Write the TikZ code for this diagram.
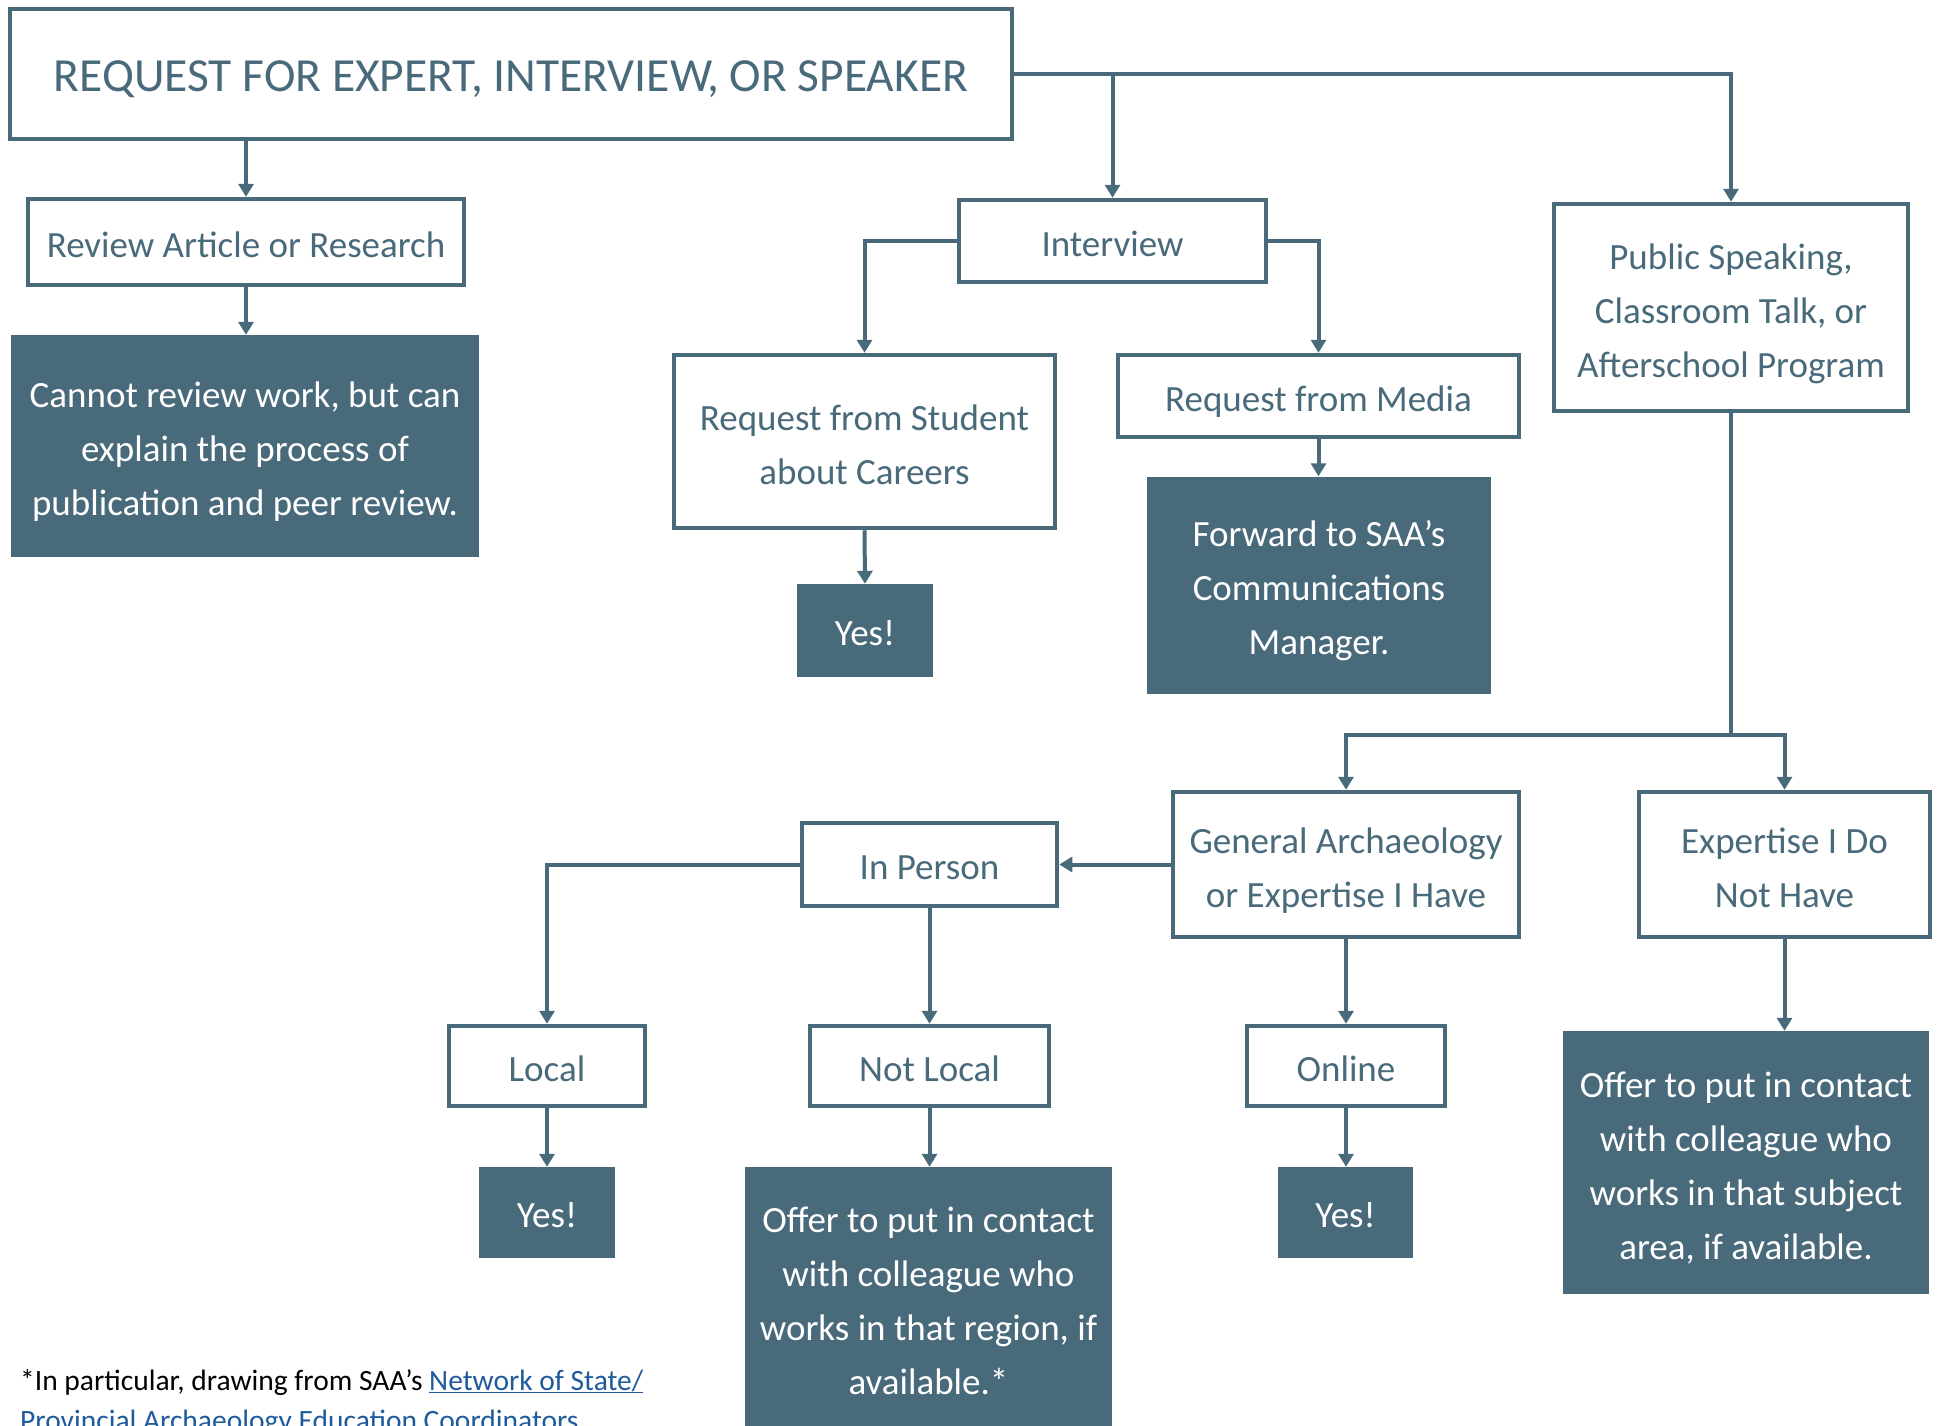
\documentclass[tikz,border=0pt]{standalone}
\usepackage{fontspec}
\setmainfont{Carlito}
\usetikzlibrary{arrows.meta,calc}
\definecolor{teal}{HTML}{496A7A}
\definecolor{linkblue}{HTML}{1F5B9C}
\newcommand{\mlines}[1]{\raisebox{-5pt}[\height][\depth]{\begin{tabular}{@{}c@{}}#1\end{tabular}}}
\begin{document}
\begin{tikzpicture}[x=1pt,y=-1pt,
  base/.style={inner sep=0pt,align=center,font=\fontsize{37}{54}\selectfont,
    execute at begin node={\rule{0pt}{40pt}},
    execute at end node={\rule[-10pt]{0pt}{10pt}}},
  mbase/.style={inner sep=0pt,align=center,font=\fontsize{37}{54}\selectfont},
  wbox/.style={base,draw=teal,line width=4.5pt,fill=white,text=teal},
  dbox/.style={base,fill=teal,text=white},
  wmbox/.style={mbase,draw=teal,line width=4.5pt,fill=white,text=teal},
  dmbox/.style={mbase,fill=teal,text=white},
  titlebox/.style={inner sep=0pt,align=center,draw=teal,line width=4.5pt,fill=white,text=teal,
    font=\fontsize{47.5}{56}\selectfont,
    execute at begin node={\rule{0pt}{46pt}},
    execute at end node={\rule[-10pt]{0pt}{10pt}}},
  arr/.style={draw=teal,line width=4pt,-{Triangle[width=15pt,length=13pt]}},
  ln/.style={draw=teal,line width=4pt}]
\useasboundingbox (0,0) rectangle (1940,1426);
\clip (0,0) rectangle (1940,1426);
\fill[white] (0,0) rectangle (1940,1426);

\node[titlebox,minimum width=1002pt,minimum height=130pt] (top) at (511,74) {REQUEST FOR EXPERT, INTERVIEW, OR SPEAKER};
\node[wbox,minimum width=436pt,minimum height=86pt] (review) at (246,242) {Review Article or Research};
\node[dmbox,minimum width=468pt,minimum height=222pt] (cannot) at (245,446) {\mlines{Cannot review work, but can\\explain the process of\\publication and peer review.}};
\node[wbox,minimum width=307pt,minimum height=82pt] (interview) at (1112.5,241) {Interview};
\node[wmbox,minimum width=381pt,minimum height=173pt] (student) at (864.5,441.5) {\mlines{Request from Student\\about Careers}};
\node[dbox,minimum width=136pt,minimum height=93pt] (yes1) at (865,630.5) {Yes!};
\node[wbox,minimum width=401pt,minimum height=82pt] (media) at (1318.5,396) {Request from Media};
\node[dmbox,minimum width=344pt,minimum height=217pt] (forward) at (1319,585) {\mlines{Forward to SAA’s\\Communications\\Manager.}};
\node[wmbox,minimum width=354pt,minimum height=207pt] (public) at (1731,307.5) {\mlines{Public Speaking,\\Classroom Talk, or\\Afterschool Program}};
\node[wmbox,minimum width=346pt,minimum height=145pt] (general) at (1346,864.5) {\mlines{General Archaeology\\or Expertise I Have}};
\node[wmbox,minimum width=291pt,minimum height=145pt] (expertise) at (1784.5,864.5) {\mlines{Expertise I Do\\Not Have}};
\node[wbox,minimum width=255pt,minimum height=83pt] (inperson) at (929.5,864.5) {In Person};
\node[wbox,minimum width=196pt,minimum height=80pt] (local) at (547,1066) {Local};
\node[wbox,minimum width=239pt,minimum height=80pt] (notlocal) at (929.5,1066) {Not Local};
\node[wbox,minimum width=198pt,minimum height=80pt] (online) at (1346,1066) {Online};
\node[dbox,minimum width=136pt,minimum height=91pt] (yes2) at (547,1212.5) {Yes!};
\node[dmbox,minimum width=367pt,minimum height=262pt] (offer1) at (928.5,1298) {\mlines{Offer to put in contact\\with colleague who\\works in that region, if\\available.*}};
\node[dbox,minimum width=135pt,minimum height=91pt] (yes3) at (1345.5,1212.5) {Yes!};
\node[dmbox,minimum width=366pt,minimum height=263pt] (offer2) at (1746,1162.5) {\mlines{Offer to put in contact\\with colleague who\\works in that subject\\area, if available.}};

\coordinate (ysplit) at (0,735);
\coordinate (sp) at (public.south |- ysplit);

\draw[arr] (top.south -| review.north) -- (review.north);
\draw[arr] (review.south) -- (cannot.north -| review.south);
\draw[arr] (top.east) -| (public.north);
\draw[arr] (interview.north |- top.east) -- (interview.north);
\draw[arr] (interview.west) -| (student.north);
\draw[arr] (interview.east) -| (media.north);
\draw[arr] (student.south) -- (yes1.north);
\draw[arr] (media.south) -- (forward.north -| media.south);
\draw[ln] (public.south) -- (sp);
\draw[arr] (sp) -| (general.north);
\draw[arr] (sp) -| (expertise.north);
\draw[arr] (general.west) -- (inperson.east);
\draw[arr] (inperson.west) -| (local.north);
\draw[arr] (inperson.south) -- (notlocal.north);
\draw[arr] (general.south) -- (online.north);
\draw[arr] (local.south) -- (yes2.north);
\draw[arr] (notlocal.south) -- (offer1.north -| notlocal.south);
\draw[arr] (online.south) -- (yes3.north -| online.south);
\draw[arr] (expertise.south) -- (offer2.north -| expertise.south);

\node[anchor=base west,inner sep=0pt,font=\fontsize{29.5}{36}\selectfont] (foot1) at (20,1390) {*In particular, drawing from SAA’s \textcolor{linkblue}{\underline{Network of State/}}};
\node[anchor=base west,inner sep=0pt,font=\fontsize{29.5}{36}\selectfont,text=linkblue] (foot2) at (20,1430) {\underline{Provincial Archaeology Education Coordinators}};
\end{tikzpicture}
\end{document}
